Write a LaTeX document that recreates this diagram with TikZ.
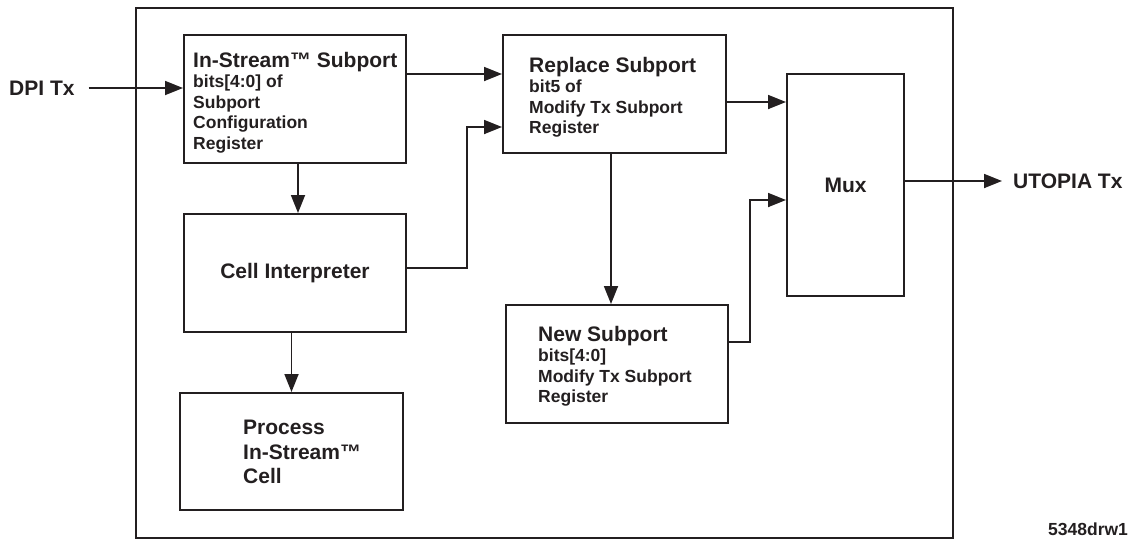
\documentclass[tikz,border=0pt]{standalone}
\usepackage{fontspec}
\setmainfont{Liberation Sans}
\usetikzlibrary{arrows.meta,positioning}
\definecolor{ink}{HTML}{231F20}
\newcommand\ttl{\fontsize{21}{24.5}\selectfont\bfseries}
\newcommand\sml{\fontsize{17.5}{20.5}\selectfont\bfseries}

\begin{document}
\begin{tikzpicture}[x=1pt,y=-1pt,color=ink,
		>={Triangle[length=18pt,width=14pt]},
		blk/.style={draw,line width=2pt,inner sep=0pt},
		txt/.style={inner sep=0pt,align=left,anchor=north west,font=\sml},
		lnk/.style={->,line width=1.8pt}]
		\useasboundingbox (0,0) rectangle (1130,539);
		\node[draw,line width=1.6pt,minimum width=817pt,minimum height=530pt] (chip) at (544.5,273) {};
		\node[blk,minimum width=222pt,minimum height=128pt] (ist) at (295,99) {};
		\node[blk,minimum width=222pt,minimum height=118pt,font=\ttl] (cell) at (295,273) {Cell Interpreter};
		\node[blk,minimum width=223pt,minimum height=117pt] (prc) at (291.5,451.5) {};
		\node[blk,minimum width=223pt,minimum height=118pt] (rep) at (614.5,94) {};
		\node[blk,minimum width=222pt,minimum height=118pt] (nsp) at (617,364) {};
		\node[blk,minimum width=117pt,minimum height=222pt,font=\ttl] (mux) at (845.5,185) {Mux};
		\node[txt] (istT) at ([shift={(10,18)}]ist.north west) {{\ttl In-Stream™ Subport}\\bits[4:0] of\\Subport\\Configuration\\Register};
		\node[txt] (repT) at ([shift={(27,23)}]rep.north west) {{\ttl Replace Subport}\\bit5 of\\Modify Tx Subport\\Register};
		\node[txt] (nspT) at ([shift={(33,22)}]nsp.north west) {{\ttl New Subport}\\bits[4:0]\\Modify Tx Subport\\Register};
		\node[txt,font=\ttl] (prcT) at ([shift={(64,28)}]prc.north west) {Process\\In-Stream™\\Cell};
		\node[font=\ttl,inner sep=0pt,anchor=west] (dpi) at (9,88) {DPI Tx};
		\node[font=\ttl,inner sep=0pt,anchor=west] (utp) at (1013,181) {UTOPIA Tx};
		\node[font=\sml,inner sep=0pt,anchor=base west] (drw) at (1048,535) {5348drw1};
		\draw[lnk] ([xshift=14pt]dpi.east) -- (dpi.east -| ist.west);
		\draw[lnk] (ist.east |- 0,74) -- (rep.west |- 0,74);
		\draw[lnk] (ist.south -| 298,0) -- (cell.north -| 298,0);
		\draw[lnk] (cell.south -| prc.north) -- (prc.north);
		\draw[lnk] (cell.east |- 0,268) -| (467,127) -- (rep.west |- 0,127);
		\draw[lnk] (rep.east |- 0,102) -- (mux.west |- 0,102);
		\draw[lnk] (rep.south -| 611,0) -- (nsp.north -| 611,0);
		\draw[lnk] (nsp.east |- 0,342) -| (750,200) -- (mux.west |- 0,200);
		\draw[lnk] (mux.east |- 0,181) -- ([xshift=-11pt]utp.west);
\end{tikzpicture}
\end{document}
